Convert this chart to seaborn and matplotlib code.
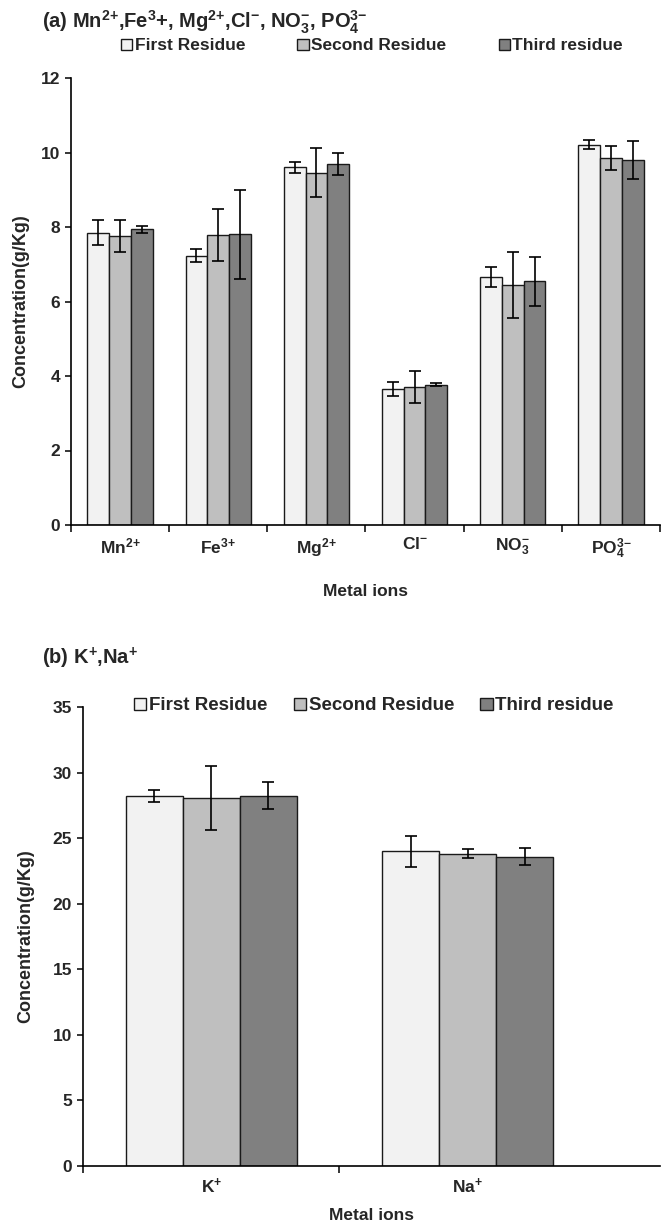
import numpy as np
import pandas as pd
import matplotlib
matplotlib.use("Agg")
import matplotlib.pyplot as plt
import seaborn as sns
from matplotlib.patches import Patch

sns.set_theme(style="white")
plt.rcParams["font.family"] = ["Liberation Sans", "DejaVu Sans"]
plt.rcParams["font.weight"] = "bold"
plt.rcParams["mathtext.fontset"] = "custom"
plt.rcParams["mathtext.rm"] = "Liberation Sans:bold"
plt.rcParams["mathtext.it"] = "Liberation Sans:bold"
plt.rcParams["mathtext.bf"] = "Liberation Sans:bold"
plt.rcParams["mathtext.default"] = "rm"

# Series names and fills
residues = ["First Residue", "Second Residue", "Third residue"]
colors = ["#F2F2F2", "#BFBFBF", "#808080"]

# Panel (a): Mn, Fe, Mg, Cl, NO3, PO4 (g/Kg)
ions_a = ["Mn$^{2{+}}$", "Fe$^{3{+}}$", "Mg$^{2{+}}$", "Cl$^{-}$",
          "NO$_{3}^{-}$", "PO$_{4}^{3{-}}$"]
first_a = [7.85, 7.23, 9.60, 3.65, 6.66, 10.21]
first_a_err = [0.34, 0.18, 0.14, 0.19, 0.27, 0.12]
second_a = [7.76, 7.78, 9.46, 3.71, 6.45, 9.85]
second_a_err = [0.44, 0.70, 0.66, 0.43, 0.88, 0.33]
third_a = [7.94, 7.80, 9.69, 3.77, 6.54, 9.80]
third_a_err = [0.09, 1.20, 0.30, 0.03, 0.66, 0.52]

# Panel (b): K, Na (g/Kg)
ions_b = ["K$^{+}$", "Na$^{+}$"]
first_b = [28.18, 24.01]
first_b_err = [0.46, 1.18]
second_b = [28.07, 23.81]
second_b_err = [2.45, 0.35]
third_b = [28.25, 23.60]
third_b_err = [1.00, 0.68]

W, H = 667, 1225
fig = plt.figure(figsize=(W / 100, H / 100), dpi=100)


def box(left, right, top, bottom):
    return [left / W, 1 - bottom / H, (right - left) / W, (bottom - top) / H]


def draw_panel(ax, ions, series, errors, ymax, ystep, xmax_pad=0.0,
               n_bounds=None):
    df = pd.DataFrame({
        "ion": np.tile(ions, len(residues)),
        "residue": np.repeat(residues, len(ions)),
        "value": np.concatenate(series),
    })
    sns.barplot(data=df, x="ion", y="value", hue="residue", order=ions,
                hue_order=residues, palette=colors, width=0.667, gap=0,
                errorbar=None, edgecolor="#1a1a1a", linewidth=1.0,
                legend=False, ax=ax, saturation=1)
    for cont, err in zip(ax.containers, errors):
        xs = [p.get_x() + p.get_width() / 2 for p in cont.patches]
        ys = [p.get_height() for p in cont.patches]
        ax.errorbar(xs, ys, yerr=err, fmt="none", ecolor="black",
                    elinewidth=1.2, capsize=4, capthick=1.2, zorder=5)
    n = len(ions)
    ax.set_xlim(-0.5, n - 0.5 + xmax_pad)
    ax.set_ylim(0, ymax)
    ax.set_yticks(np.arange(0, ymax + 0.01, ystep))
    nb = n + 1 if n_bounds is None else n_bounds
    ax.set_xticks(np.arange(-0.5, -0.5 + nb), minor=True)
    ax.tick_params(axis="x", which="major", length=0, pad=8, labelsize=12.5)
    ax.tick_params(axis="x", which="minor", length=5, width=1.1,
                   direction="out", color="black", bottom=True)
    ax.tick_params(axis="y", length=4, width=1.1, direction="out",
                   color="black", labelsize=12.5, pad=4, left=True)
    for lab in ax.get_xticklabels() + ax.get_yticklabels():
        lab.set_fontweight("bold")
    sns.despine(ax=ax)
    for s in ("left", "bottom"):
        ax.spines[s].set_color("black")
        ax.spines[s].set_linewidth(1.2)
    handles = [Patch(facecolor=c, edgecolor="#1a1a1a", linewidth=1.0)
               for c in colors]
    return handles


# Panel (a)
ax1 = fig.add_axes(box(71, 660, 78, 525))
h = draw_panel(ax1, ions_a, [first_a, second_a, third_a],
               [first_a_err, second_a_err, third_a_err], 12, 2)
ax1.set_ylabel("Concentration(g/Kg)", fontsize=13, fontweight="bold",
               labelpad=8)
ax1.set_xlabel("Metal ions", fontsize=12.5, fontweight="bold", labelpad=17)
ax1.legend(h, residues, loc="center", bbox_to_anchor=(372 / W, (H - 46) / H),
           bbox_transform=fig.transFigure, ncol=3, frameon=False,
           handlelength=0.65, handleheight=0.65, handletextpad=0.15,
           columnspacing=3.0, prop={"weight": "bold", "size": 12.5})
fig.text(42 / W, 1 - 22 / H,
         "(a) Mn$^{2{+}}$,Fe$^{3}$+, Mg$^{2{+}}$,Cl$^{-}$, NO$_{3}^{-}$, "
         "PO$_{4}^{3{-}}$",
         fontsize=14.5, fontweight="bold", va="center", ha="left")

# Panel (b): axis line runs a little past the last category
ax2 = fig.add_axes(box(83, 660, 707, 1166))
h = draw_panel(ax2, ions_b, [first_b, second_b, third_b],
               [first_b_err, second_b_err, third_b_err], 35, 5,
               xmax_pad=0.25, n_bounds=2)
ax2.set_ylabel("Concentration(g/Kg)", fontsize=13, fontweight="bold",
               labelpad=13)
ax2.set_xlabel("Metal ions", fontsize=12.5, fontweight="bold", labelpad=8)
ax2.legend(h, residues, loc="center", bbox_to_anchor=(374 / W, (H - 706) / H),
           bbox_transform=fig.transFigure, ncol=3, frameon=False,
           handlelength=0.65, handleheight=0.65, handletextpad=0.15,
           columnspacing=1.4, prop={"weight": "bold", "size": 13.5})
fig.text(42 / W, 1 - 658 / H, "(b) K$^{+}$,Na$^{+}$",
         fontsize=14.5, fontweight="bold", va="center", ha="left")

fig.savefig("out.png", dpi=100)
